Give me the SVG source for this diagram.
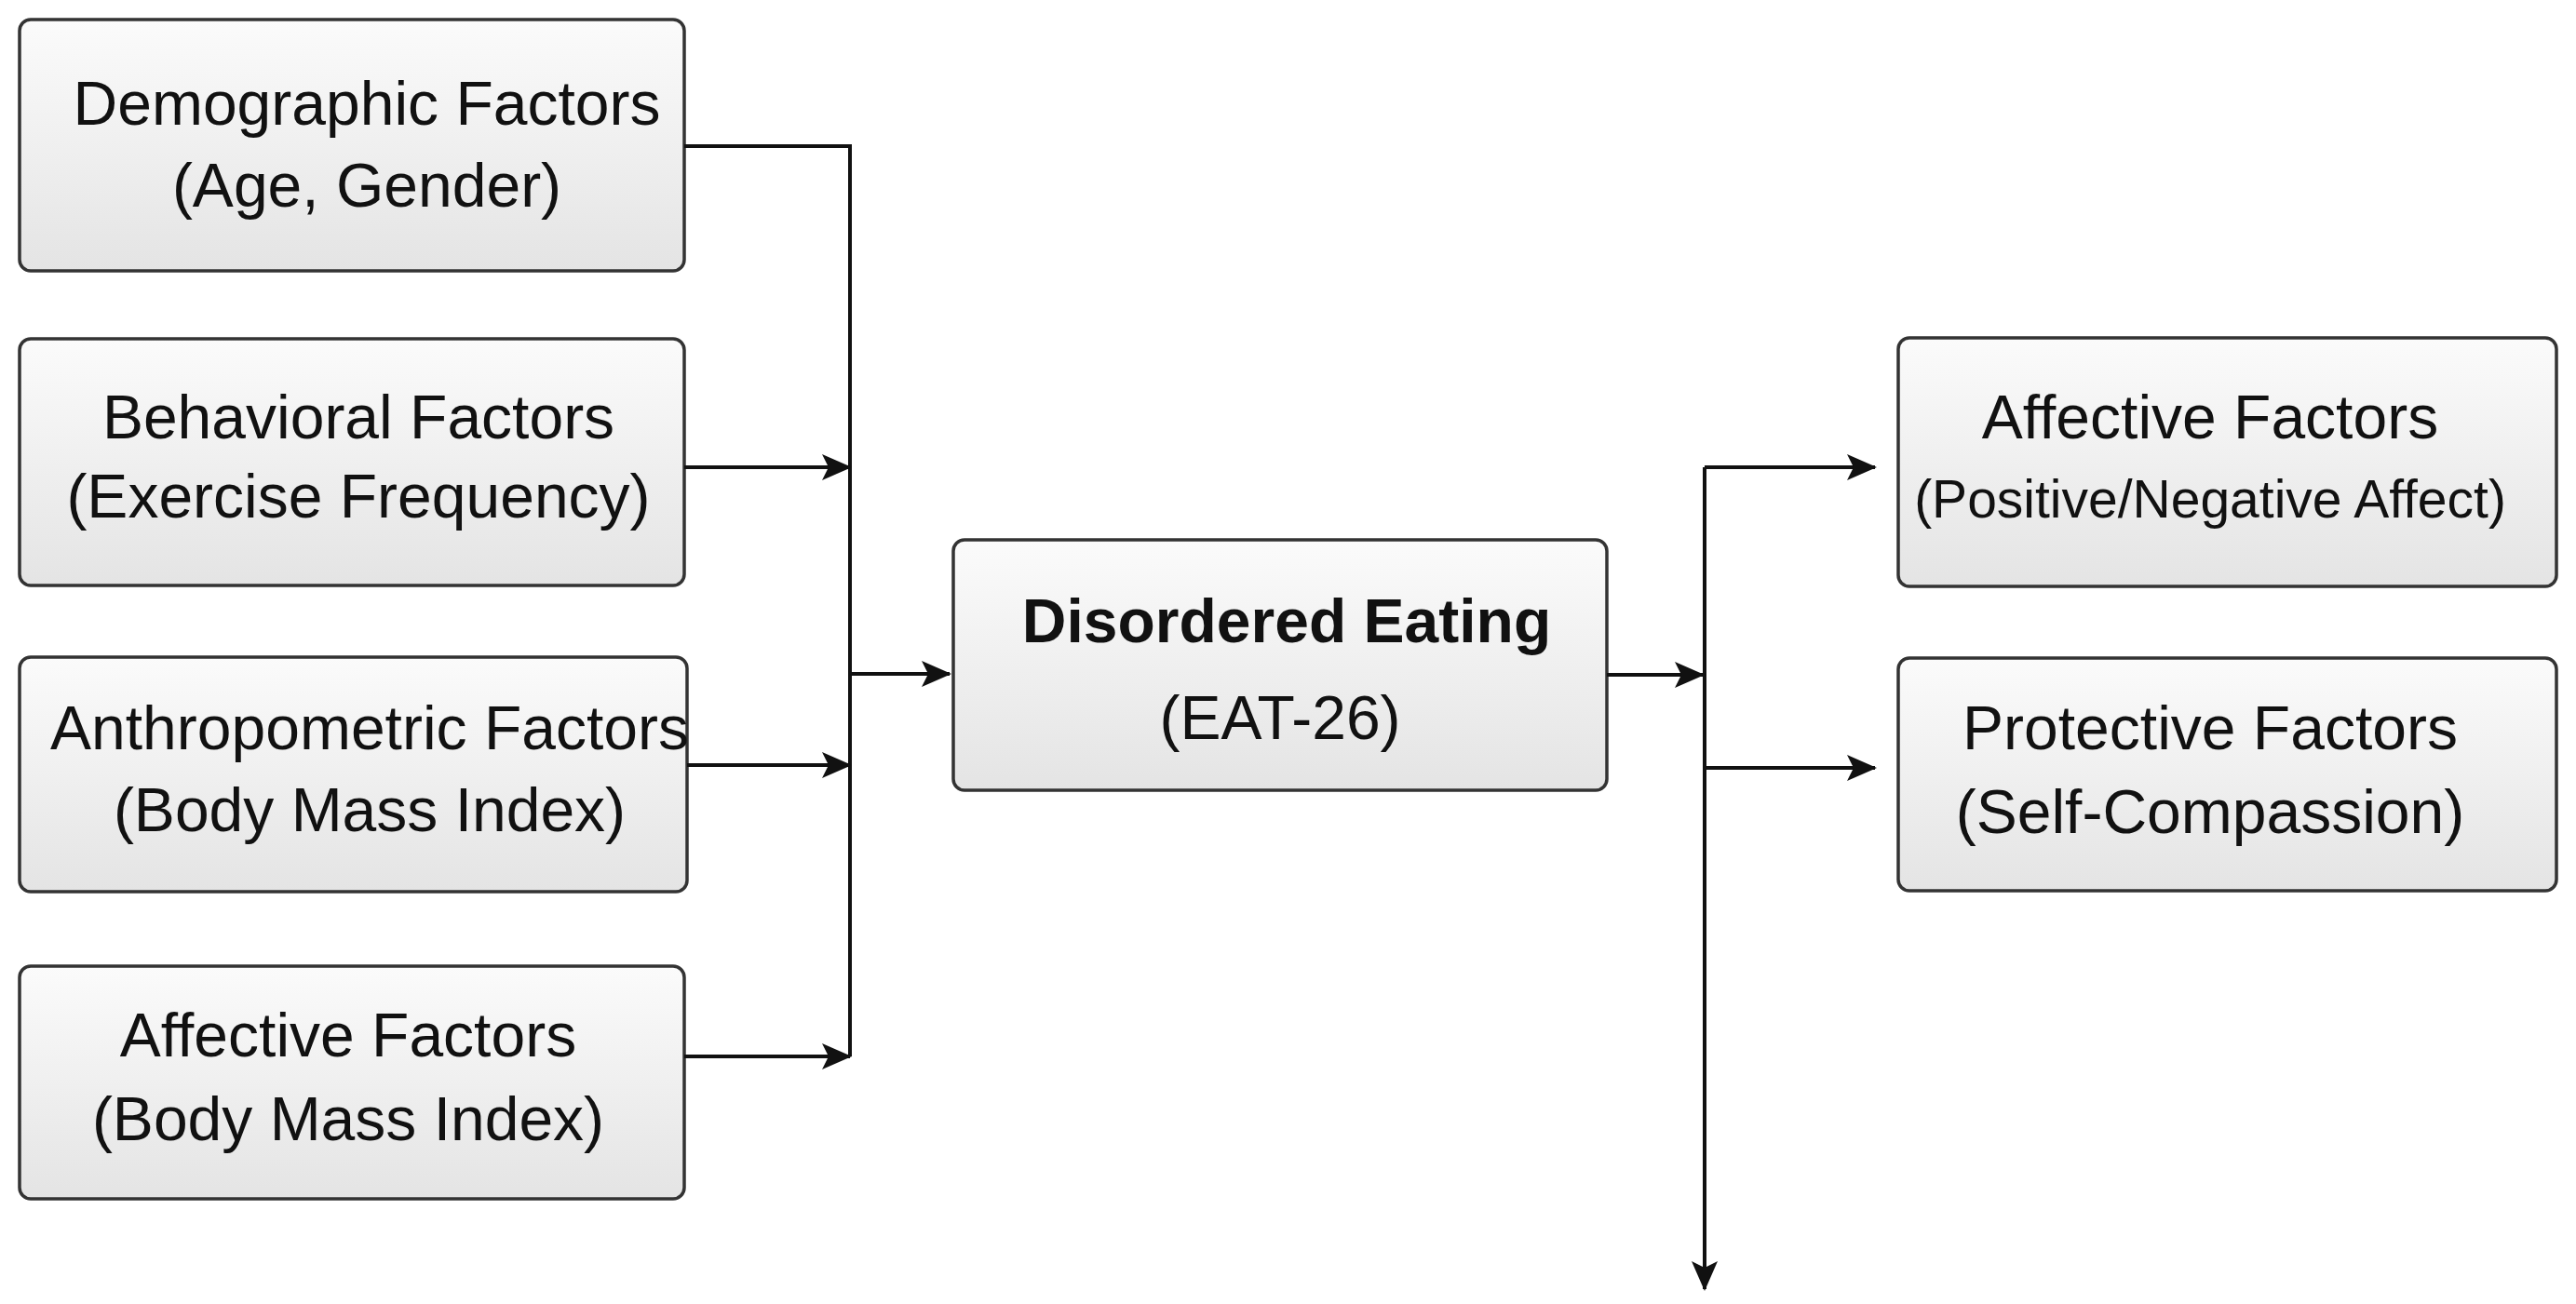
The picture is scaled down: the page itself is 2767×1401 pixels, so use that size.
<svg xmlns="http://www.w3.org/2000/svg" width="2767" height="1401" viewBox="0 0 2767 1401">
<defs>
<linearGradient id="g" x1="0" y1="0" x2="0" y2="1"><stop offset="0" stop-color="#fbfbfb"/><stop offset="1" stop-color="#e4e4e4"/></linearGradient>
<marker id="a" markerWidth="32" markerHeight="28" refX="30" refY="14" orient="auto" markerUnits="userSpaceOnUse" viewBox="0 0 32 28"><path d="M0,0 L32,14 L0,28 L7,14 Z" fill="#111"/></marker>
</defs>
<style>
rect{fill:url(#g);stroke:#333;stroke-width:3.5}
text{font-family:"Liberation Sans",Arial,sans-serif;font-size:66px;fill:#111;text-anchor:middle}
.b{font-weight:bold}
.s{font-size:57px}
.c{fill:none;stroke:#111;stroke-width:4}
</style>
<rect width="2767" height="1401" fill="#fff" style="fill:#fff;stroke:none"/>
<g id="demographic"><rect x="21" y="21" width="714" height="270" rx="12"/><text x="394" y="134">Demographic Factors</text><text x="394" y="222">(Age, Gender)</text></g>
<g id="behavioral"><rect x="21" y="364" width="714" height="265" rx="12"/><text x="385" y="471">Behavioral Factors</text><text x="385" y="556">(Exercise Frequency)</text></g>
<g id="anthropometric"><rect x="21" y="706" width="717" height="252" rx="12"/><text x="397" y="805">Anthropometric Factors</text><text x="397" y="893">(Body Mass Index)</text></g>
<g id="affective-left"><rect x="21" y="1038" width="714" height="250" rx="12"/><text x="374" y="1135">Affective Factors</text><text x="374" y="1225">(Body Mass Index)</text></g>
<g id="disordered"><rect x="1024" y="580" width="702" height="269" rx="12"/><text class="b" x="1382" y="690">Disordered Eating</text><text x="1375" y="794">(EAT-26)</text></g>
<g id="affective-right"><rect x="2039" y="363" width="707" height="267" rx="12"/><text x="2374" y="471">Affective Factors</text><text class="s" x="2374" y="556">(Positive/Negative Affect)</text></g>
<g id="protective"><rect x="2039" y="707" width="707" height="250" rx="12"/><text x="2374" y="805">Protective Factors</text><text x="2374" y="895">(Self-Compassion)</text></g>
<g id="connectors">
<path class="c" d="M735,157 H913 V1135"/>
<path class="c" d="M735,502 H913" marker-end="url(#a)"/>
<path class="c" d="M738,822 H913" marker-end="url(#a)"/>
<path class="c" d="M735,1135 H913" marker-end="url(#a)"/>
<path class="c" d="M913,724 H1020" marker-end="url(#a)"/>
<path class="c" d="M1726,725 H1829" marker-end="url(#a)"/>
<path class="c" d="M1831,502 V1385" marker-end="url(#a)"/>
<path class="c" d="M1831,502 H2014" marker-end="url(#a)"/>
<path class="c" d="M1831,825 H2014" marker-end="url(#a)"/>
</g>
</svg>
